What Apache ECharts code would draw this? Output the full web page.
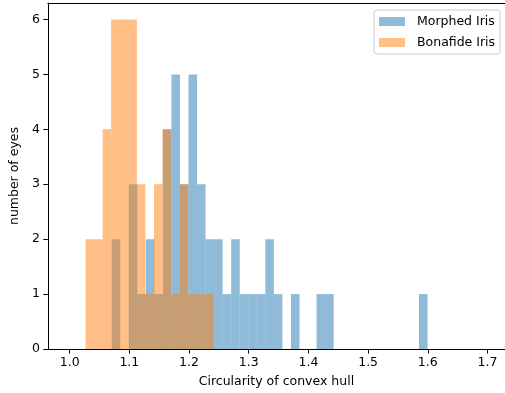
<!DOCTYPE html>
<html>
<head>
<meta charset="utf-8">
<script src="https://cdn.jsdelivr.net/npm/echarts@6/dist/echarts.min.js"></script>
<style>
html, body { margin: 0; padding: 0; background: #fff; }
#chart { width: 505px; height: 393px; }
</style>
</head>
<body>
<div id="chart"></div>
<script>
// histogram counts per bin
var blueName = 'Morphed Iris';
var blueRange = [1.0704, 1.5995];
var blueCounts = [2, 0, 3, 1, 2, 1, 4, 5, 3, 5, 3, 2, 2, 1, 2, 1, 1, 1, 2, 1, 0, 1, 0, 0, 1, 1, 0, 0, 0, 0, 0, 0, 0, 0, 0, 0, 1];

var orangeName = 'Bonafide Iris';
var orangeRange = [1.0266, 1.2415];
var orangeCounts = [2, 2, 4, 6, 6, 6, 3, 1, 3, 4, 1, 3, 1, 1, 1];

var xTicks = [1.0, 1.1, 1.2, 1.3, 1.4, 1.5, 1.6, 1.7];
var yTicks = [0, 1, 2, 3, 4, 5, 6];

// turn counts into [binStart, binEnd, count] rows
function bins(range, counts) {
    var w = (range[1] - range[0]) / counts.length;
    var rows = [];
    for (var i = 0; i < counts.length; i++) {
        rows.push([range[0] + i * w, range[0] + (i + 1) * w, counts[i]]);
    }
    return rows;
}

function renderBar(params, api) {
    var h = api.value(2);
    if (!h) return null;
    var p0 = api.coord([api.value(0), h]);
    var p1 = api.coord([api.value(1), 0]);
    return {
        type: 'rect',
        shape: { x: p0[0], y: p0[1], width: p1[0] - p0[0], height: p1[1] - p0[1] },
        style: api.style()
    };
}

var font = 'DejaVu Sans';
var xMin = 0.9635, xMax = 1.7293;
var myChart = echarts.init(document.getElementById('chart'));

var option = {
    animation: false,
    textStyle: { fontFamily: font },
    grid: { left: 44, right: 0, top: 3, bottom: 44 },
    legend: {
        orient: 'vertical',
        left: 374, top: 10,
        padding: [4, 5, 4, 5],
        itemGap: 6,
        itemWidth: 26, itemHeight: 9,
        icon: 'rect',
        borderColor: '#cccccc', borderWidth: 1, borderRadius: 3,
        backgroundColor: 'rgba(255,255,255,0.8)',
        textStyle: { fontFamily: font, fontSize: 12.5, color: '#000', padding: [0, 0, 0, 7], lineHeight: 15 },
        data: [blueName, orangeName]
    },
    xAxis: [{
        type: 'value',
        min: xMin, max: xMax,
        name: 'Circularity of convex hull',
        nameLocation: 'middle',
        nameGap: 26,
        nameTextStyle: { fontFamily: font, fontSize: 12.5, color: '#000' },
        splitLine: { show: false },
        axisLine: { onZero: false, lineStyle: { color: '#000', width: 1 } },
        axisTick: { length: 4.5, lineStyle: { color: '#000' }, customValues: xTicks },
        axisLabel: {
            customValues: xTicks,
            margin: 7,
            fontFamily: font, fontSize: 12.5, color: '#000',
            formatter: function (v) { return v.toFixed(1); }
        }
    }, {
        // top spine
        type: 'value',
        position: 'top',
        min: xMin, max: xMax,
        splitLine: { show: false },
        axisLine: { onZero: false, lineStyle: { color: '#000', width: 1 } },
        axisTick: { show: false },
        axisLabel: { show: false }
    }],
    yAxis: {
        type: 'value',
        min: 0, max: 6.3,
        name: 'number of eyes',
        nameLocation: 'middle',
        nameGap: 24,
        nameTextStyle: { fontFamily: font, fontSize: 12.5, color: '#000' },
        splitLine: { show: false },
        axisLine: { show: true, lineStyle: { color: '#000', width: 1 } },
        axisTick: { show: true, length: 4.5, lineStyle: { color: '#000' }, customValues: yTicks },
        axisLabel: {
            customValues: yTicks,
            margin: 8,
            fontFamily: font, fontSize: 12.5, color: '#000'
        }
    },
    series: [{
        name: blueName,
        type: 'custom',
        renderItem: renderBar,
        itemStyle: { color: 'rgba(31,119,180,0.5)' },
        encode: { x: [0, 1], y: 2 },
        data: bins(blueRange, blueCounts)
    }, {
        name: orangeName,
        type: 'custom',
        renderItem: renderBar,
        itemStyle: { color: 'rgba(255,127,14,0.5)' },
        encode: { x: [0, 1], y: 2 },
        data: bins(orangeRange, orangeCounts)
    }]
};

myChart.setOption(option);
</script>
</body>
</html>
